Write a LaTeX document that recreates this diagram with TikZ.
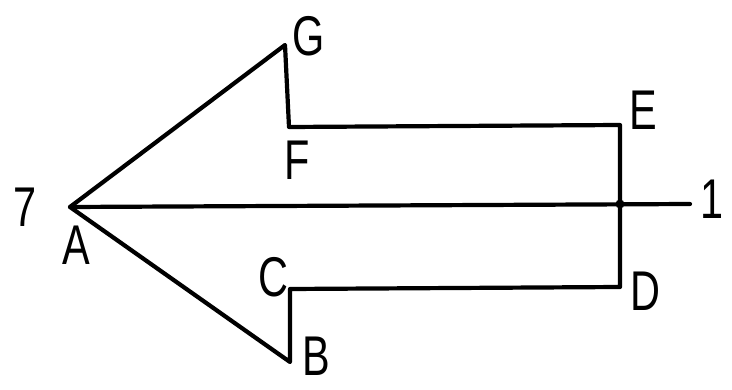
\documentclass[tikz,border=0pt]{standalone}
\usepackage{fontspec}
\setmainfont{Liberation Sans}
\newcommand{\hlbl}[1]{\scalebox{0.74}[1]{#1}}
\begin{document}
\begin{tikzpicture}[x=1pt,y=-1pt,
  edge/.style={line width=4.2pt,line join=round,line cap=round},
  lbl/.style={inner sep=0pt,font=\fontsize{56}{56}\selectfont}]
\useasboundingbox (0,0) rectangle (732,390);
\coordinate (A) at (70,207);
\coordinate (G) at (285,45);
\coordinate (F) at (289,127);
\coordinate (E) at (620,125);
\coordinate (X) at (620,204);
\coordinate (D) at (620,287);
\coordinate (C) at (290,289);
\coordinate (B) at (290,362);
\coordinate (R) at (690,204);
\draw[edge] (A) -- (G) -- (F) -- (E) -- (D) -- (C) -- (B) -- cycle;
\draw[edge] (A) -- (R);
\fill (X) circle (4.5pt);
\node[lbl] (l7) at (25,207) {\hlbl{7}};
\node[lbl] (lA) at (76,245) {\hlbl{A}};
\node[lbl] (lG) at (309,36) {\hlbl{G}};
\node[lbl] (lF) at (297,160) {\hlbl{F}};
\node[lbl] (lE) at (643,110) {\hlbl{E}};
\node[lbl] (lD) at (645,291) {\hlbl{D}};
\node[lbl] (lC) at (273,277) {\hlbl{C}};
\node[lbl] (lB) at (316,356) {\hlbl{B}};
\node[lbl] (l1) at (712,199) {\hlbl{1}};
\end{tikzpicture}
\end{document}
